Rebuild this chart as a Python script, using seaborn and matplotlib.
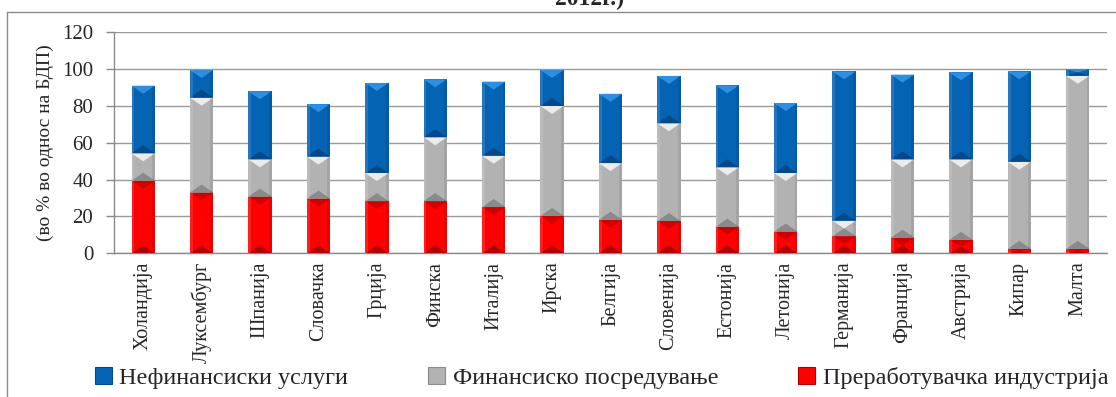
import numpy as np
import pandas as pd
import matplotlib
matplotlib.use("Agg")
import matplotlib.pyplot as plt
from matplotlib.patches import Polygon, Rectangle
import seaborn as sns

countries = ["Холандија", "Луксембург", "Шпанија", "Словачка", "Грција", "Финска",
             "Италија", "Ирска", "Белгија", "Словенија", "Естонија", "Летонија",
             "Германија", "Франција", "Австрија", "Кипар", "Малта"]
manufacturing = [39.4, 33.0, 30.8, 29.7, 28.3, 28.3, 25.1, 20.3, 18.2, 17.5, 14.4, 11.8,
                 9.3, 8.5, 7.3, 2.4, 2.4]
financial = [14.9, 51.5, 20.2, 22.8, 15.3, 34.7, 27.9, 59.7, 30.8, 53.1, 32.3, 31.8,
             8.4, 42.5, 43.7, 47.3, 94.0]
nonfinancial = [36.7, 15.0, 37.0, 28.5, 48.9, 31.5, 40.2, 19.5, 37.6, 25.7, 44.5, 38.0,
                81.1, 46.0, 47.3, 49.1, 3.6]
series_names = ["Нефинансиски услуги", "Финансиско посредување", "Преработувачка индустрија"]
yticks = [0, 20, 40, 60, 80, 100, 120]
ylabel = "(во % во однос на БДП)"
title_tail = "2012г.)"

colors = {"Преработувачка индустрија": ("#FF0000", "#D00000", "#B00000"),
          "Финансиско посредување": ("#B2B2B2", "#ECECEC", "#8A8A8A"),
          "Нефинансиски услуги": ("#0563B4", "#2C8FE2", "#03498A")}

df = pd.DataFrame({"country": countries, "m": manufacturing, "f": financial, "n": nonfinancial})
df["mf"] = df["m"] + df["f"]

sns.set_theme(style="white")
plt.rcParams["font.family"] = ["Liberation Serif", "DejaVu Serif"]

fig = plt.figure(figsize=(11.16, 3.97), dpi=100)
ax = fig.add_axes([114 / 1116, 1 - 253.3 / 397, (1107 - 114) / 1116, (253.3 - 32.3) / 397])

layers = [("m", None, "Преработувачка индустрија"),
          ("f", "m", "Финансиско посредување"),
          ("n", "mf", "Нефинансиски услуги")]
groups = []
for col, base, name in layers:
    n_before = len(ax.patches)
    kws = {}
    if base is not None:
        kws["bottom"] = df[base].values
    sns.barplot(data=df, x="country", y=col, order=countries, color=colors[name][0],
                width=0.4, saturation=1, linewidth=0, ax=ax, **kws)
    groups.append((name, ax.patches[n_before:]))

# bevel shading derived from each bar's own geometry
px_per_unit = (253.3 - 32.3) / 120
for name, patches in groups:
    main, top_c, bot_c = colors[name]
    for p in patches:
        x, y, w, h = p.get_x(), p.get_y(), p.get_width(), p.get_height()
        d = min(8 / px_per_unit, h / 2)
        ax.add_patch(Polygon([(x, y + h), (x + w, y + h), (x + w / 2, y + h - d)],
                             closed=True, facecolor=top_c, edgecolor="none", zorder=3))
        ax.add_patch(Polygon([(x, y), (x + w, y), (x + w / 2, y + d)],
                             closed=True, facecolor=bot_c, edgecolor="none", zorder=3))
        ax.add_patch(Rectangle((x, y), w * 0.12, h, facecolor="white", alpha=0.12,
                               edgecolor="none", zorder=3))
        ax.add_patch(Rectangle((x + w * 0.88, y), w * 0.12, h, facecolor="black", alpha=0.08,
                               edgecolor="none", zorder=3))

ax.set_ylim(0, 120)
ax.set_xlim(-0.5, len(countries) - 0.5)
ax.set_yticks(yticks)
ax.set_yticklabels([str(t) for t in yticks], fontsize=15)
ax.yaxis.grid(True, color="#9A9A9A", linewidth=1.0)
ax.set_axisbelow(True)
ax.set_xlabel("")
ax.set_ylabel(ylabel, fontsize=14, labelpad=6)
ax.set_xticks(range(len(countries)))
ax.set_xticklabels(countries, rotation=90, fontsize=14.5, va="top")
ax.set_xticks(np.arange(-0.5, len(countries), 1.0), minor=True)
ax.tick_params(axis="x", which="major", length=0, pad=6)
ax.tick_params(axis="x", which="minor", length=5, color="#8A8A8A", width=1, direction="out")
ax.tick_params(axis="y", length=6, color="#8A8A8A", width=1, direction="out", pad=9, left=True)
for s in ["top", "right"]:
    ax.spines[s].set_visible(False)
for s in ["left", "bottom"]:
    ax.spines[s].set_color("#8A8A8A")
    ax.spines[s].set_linewidth(1)

handles = [Rectangle((0, 0), 1, 1, facecolor=colors[n][0], edgecolor=colors[n][2], linewidth=0.8)
           for n in series_names]
fig.legend(handles, series_names, loc="center", bbox_to_anchor=(0.539, 1 - 378 / 397), ncol=3,
           frameon=False, fontsize=17.5, handlelength=0.7, handleheight=0.7, handletextpad=0.3,
           columnspacing=3.3)

# outer chart frame
fig.add_artist(plt.Line2D([7 / 1116, 7 / 1116], [0, 1 - 12 / 397], transform=fig.transFigure,
                          color="#8A8A8A", linewidth=1))
fig.add_artist(plt.Line2D([7 / 1116, 1], [1 - 12 / 397, 1 - 12 / 397], transform=fig.transFigure,
                          color="#8A8A8A", linewidth=1))
fig.text(589 / 1116, 1 - 5 / 397, title_tail, ha="center", va="baseline", fontsize=17,
         fontweight="bold")

fig.savefig("out.png", dpi=100)
